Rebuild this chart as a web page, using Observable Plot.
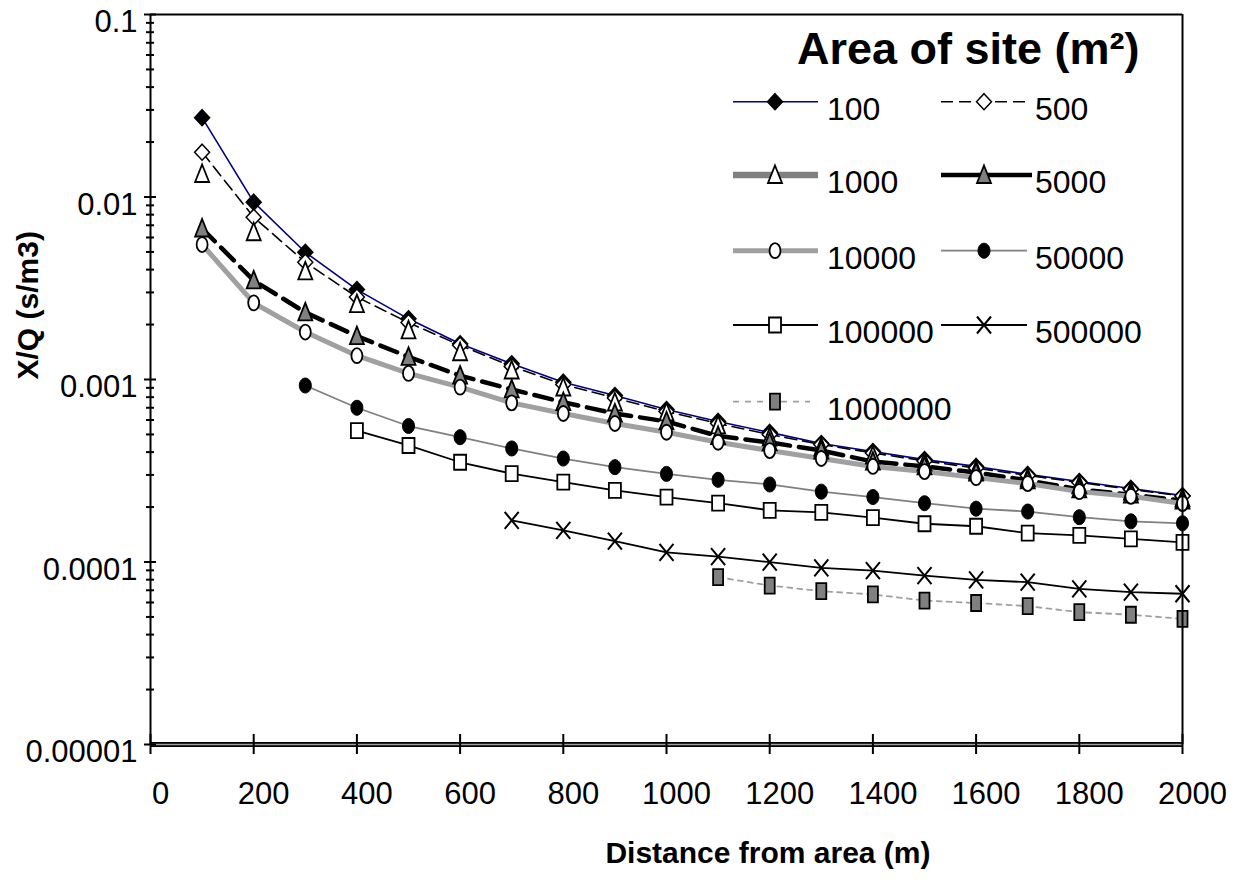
<!DOCTYPE html>
<html><head><meta charset="utf-8">
<script src="https://cdn.jsdelivr.net/npm/d3@7"></script>
<script src="https://cdn.jsdelivr.net/npm/@observablehq/plot@0.6"></script>
<style>
body{margin:0;background:#fff;}
#wrap{position:relative;width:1243px;height:884px;font-family:"Liberation Sans",Arial,sans-serif;}
#wrap svg{display:block;}
#legend{position:absolute;left:0;top:0;pointer-events:none;}
</style></head><body><div id="wrap"></div>
<script>
// ---- data ----
const distances = [100,200,300,400,500,600,700,800,900,1000,1100,1200,1300,1400,1500,1600,1700,1800,1900,2000];
const areas = ["100","500","1000","5000","10000","50000","100000","500000","1000000"];
const v100 = [0.0272,0.00937,0.00498,0.00311,0.00215,0.00157,0.00122,0.000967,0.000817,0.000685,0.000589,0.000513,0.000446,0.000403,0.000364,0.000334,0.000302,0.000276,0.000253,0.000231];
const v500 = [0.0176,0.00775,0.00439,0.00283,0.00205,0.00154,0.00118,0.000939,0.000792,0.000668,0.000574,0.000500,0.000440,0.000396,0.000358,0.000327,0.000298,0.000273,0.000250,0.000230];
const v1000 = [0.01337,0.00641,0.00391,0.00259,0.00186,0.00141,0.00112,0.000904,0.000748,0.000660,0.000560,0.000481,0.000424,0.000383,0.000351,0.000317,0.000287,0.000263,0.000243,0.000223];
const v5000 = [0.00672,0.00349,0.00233,0.00173,0.00133,0.00105,0.000882,0.000751,0.000651,0.000589,0.000490,0.000452,0.000408,0.000355,0.000334,0.000309,0.000280,0.000250,0.000234,0.000217];
const v10000 = [0.00549,0.00263,0.00182,0.00135,0.00108,0.000908,0.000745,0.000651,0.000574,0.000514,0.000453,0.000408,0.000369,0.000334,0.000313,0.000290,0.000269,0.000243,0.000229,0.000209];
const v50000 = [0.000927,0.000700,0.000556,0.000483,0.000419,0.000369,0.000331,0.000304,0.000282,0.000266,0.000243,0.000227,0.000210,0.000196,0.000189,0.000176,0.000167,0.000163]; // from 300 m
const v100000 = [0.000525,0.000435,0.000352,0.000305,0.000274,0.000247,0.000227,0.000210,0.000192,0.000187,0.000175,0.000162,0.000157,0.000144,0.000140,0.000134,0.000128]; // from 400 m
const v500000 = [0.000169,0.000149,0.000130,0.000113,0.000107,0.0000998,0.0000929,0.0000898,0.0000843,0.0000799,0.0000775,0.0000713,0.0000683,0.0000670]; // from 700 m
const v1000000 = [0.0000826,0.0000743,0.0000692,0.0000664,0.0000615,0.0000596,0.0000573,0.0000531,0.0000514,0.0000488]; // from 1100 m
const xTicks = [0,200,400,600,800,1000,1200,1400,1600,1800,2000];
const yTicks = [0.1,0.01,0.001,0.0001,0.00001];
const yTickLabels = ["0.1","0.01","0.001","0.0001","0.00001"];
const yMinor = [];
[1e-5,1e-4,1e-3,1e-2].forEach(b => { for (let m = 2; m <= 9; m++) yMinor.push(b*m); });
const xTitle = "Distance from area (m)";
const yTitle = "X/Q (s/m3)";
const legendTitle = "Area of site (m\u00B2)";

// ---- symbols (marker shapes) ----
function ell(c, rx, ry){const k=0.5523;c.moveTo(rx,0);c.bezierCurveTo(rx,ry*k,rx*k,ry,0,ry);c.bezierCurveTo(-rx*k,ry,-rx,ry*k,-rx,0);c.bezierCurveTo(-rx,-ry*k,-rx*k,-ry,0,-ry);c.bezierCurveTo(rx*k,-ry,rx,-ry*k,rx,0);c.closePath();}
const symDiamond = {draw(c){c.moveTo(0,-8);c.lineTo(7.5,0);c.lineTo(0,8);c.lineTo(-7.5,0);c.closePath();}};
const symTriangle = {draw(c){c.moveTo(0,-9.5);c.lineTo(7,8);c.lineTo(-7,8);c.closePath();}};
const symOpenEll = {draw(c){ell(c,5.5,7.5);}};
const symDotEll = {draw(c){ell(c,6,7.5);}};
const symSquare = {draw(c){c.moveTo(-6,-7.5);c.lineTo(6,-7.5);c.lineTo(6,7.5);c.lineTo(-6,7.5);c.closePath();}};
const symSquareN = {draw(c){c.moveTo(-5,-8);c.lineTo(5,-8);c.lineTo(5,8);c.lineTo(-5,8);c.closePath();}};
const symX = {draw(c){c.moveTo(-7,-8.5);c.lineTo(7,8.5);c.moveTo(7,-8.5);c.lineTo(-7,8.5);}};

const values = [v100,v500,v1000,v5000,v10000,v50000,v100000,v500000,v1000000];
const styles = [
  {stroke:"#000080", sw:1.6, dash:null, line:true, sym:symDiamond, fill:"black", msw:1.5},
  {stroke:"black", sw:1.6, dash:"12,6", line:true, sym:symDiamond, fill:"white", msw:1.5},
  {stroke:"#808080", sw:6.5, dash:null, line:false, sym:symTriangle, fill:"white", msw:1.8},
  {stroke:"black", sw:4.5, dash:"18,9", line:true, sym:symTriangle, fill:"#808080", msw:1.8},
  {stroke:"#a0a0a0", sw:5, dash:null, line:true, sym:symOpenEll, fill:"white", msw:1.8},
  {stroke:"#808080", sw:1.8, dash:null, line:true, sym:symDotEll, fill:"black", msw:1},
  {stroke:"black", sw:1.8, dash:null, line:true, sym:symSquare, fill:"white", msw:1.8},
  {stroke:"black", sw:1.8, dash:null, line:true, sym:symX, fill:"none", msw:2},
  {stroke:"#a0a0a0", sw:1.8, dash:"5,5", line:true, sym:symSquareN, fill:"#808080", msw:1.8}
];
const series = areas.map((a, i) => {
  const vals = values[i];
  const off = distances.length - vals.length;
  return {area: a, style: styles[i], rows: vals.map((v, j) => ({d: distances[off + j], v, area: a}))};
});

const FW = 1182 - 150; // frame width
const FH = 744 - 14;   // frame height
const labelMap = new Map(yTicks.map((t, i) => [t, yTickLabels[i]]));

const marks = [];
series.forEach(s => {
  if (s.style.line) marks.push(Plot.line(s.rows, {x:"d", y:"v", stroke:s.style.stroke, strokeWidth:s.style.sw, strokeDasharray:s.style.dash ?? undefined, strokeLinejoin:"round"}));
});
series.forEach(s => {
  marks.push(Plot.dot(s.rows, {x:"d", y:"v", symbol:s.style.sym, fill:s.style.fill, stroke:"black", strokeWidth:s.style.msw}));
});
// frame
marks.push(Plot.ruleY([0.1], {stroke:"black", strokeWidth:2}));
marks.push(Plot.ruleX([0], {stroke:"black", strokeWidth:2}));
marks.push(Plot.ruleX([2000], {stroke:"black", strokeWidth:2}));
marks.push(Plot.ruleY([1e-5], {stroke:"black", strokeWidth:5}));
marks.push(Plot.ruleY([1e-5], {stroke:"#a0a0a0", strokeWidth:1.6}));
// ticks
marks.push(Plot.ruleX(xTicks, {x:d=>d, insetTop:FH-10, insetBottom:-10, stroke:"black", strokeWidth:2}));
marks.push(Plot.ruleY(yTicks, {y:d=>d, insetLeft:-6, insetRight:FW-6, stroke:"black", strokeWidth:2}));
marks.push(Plot.ruleY(yMinor, {y:d=>d, insetLeft:-4, insetRight:FW-4, stroke:"black", strokeWidth:2}));
// tick labels
marks.push(Plot.axisX(xTicks, {tickSize:0, tickPadding:37, dx:10, fontSize:31, tickFormat:d=>String(d), label:null}));
marks.push(Plot.axisY(yTicks, {tickSize:0, tickPadding:13, dy:8, fontSize:31, tickFormat:d=>labelMap.get(d), label:null}));
// axis titles
marks.push(Plot.text([yTitle], {text:d=>d, frameAnchor:"left", dx:-122, rotate:-90, fontSize:30, fontWeight:"bold"}));
marks.push(Plot.text([xTitle], {text:d=>d, frameAnchor:"bottom", textAnchor:"end", dx:264, dy:118, fontSize:30, fontWeight:"bold"}));

const chart = Plot.plot({
  width:1243, height:884,
  marginLeft:150, marginRight:61, marginTop:14, marginBottom:140,
  x:{domain:[0,2000], axis:null},
  y:{type:"log", domain:[1e-5,0.1], axis:null},
  style:{fontFamily:"'Liberation Sans', Arial, sans-serif", color:"black", background:"white", overflow:"visible"},
  marks
});
const wrap = document.getElementById("wrap");
wrap.appendChild(chart);

// ---- legend overlay ----
const lg = d3.select(wrap).append("svg").attr("id","legend").attr("width",1243).attr("height",884)
  .style("font-family","'Liberation Sans', Arial, sans-serif");
lg.append("text").attr("x",797).attr("y",64).attr("font-size",45).attr("font-weight","bold").text(legendTitle);
const rowY = [101.7,175,250.7,325,401.7];
const cols = [{x1:733,x2:818,mx:775,tx:827},{x1:941,x2:1027,mx:984,tx:1035}];
series.forEach((s, i) => {
  const r = Math.floor(i/2), c = cols[i%2];
  const y = rowY[r];
  const st = s.style;
  const legDash = i===1 ? "12,6" : i===8 ? "6,6" : null;
  lg.append("line").attr("x1",c.x1).attr("x2",i===3?1032:(i===8?810:c.x2)).attr("y1",y).attr("y2",y)
    .attr("stroke",st.stroke).attr("stroke-width",st.sw).attr("stroke-dasharray",legDash);
  const p = d3.path(); st.sym.draw(p);
  lg.append("path").attr("d",p.toString()).attr("transform",`translate(${c.mx},${y})`)
    .attr("fill",st.fill).attr("stroke","black").attr("stroke-width",st.msw);
  lg.append("text").attr("x",c.tx).attr("y",y+18.3).attr("font-size",32).text(s.area);
});
</script></body></html>
